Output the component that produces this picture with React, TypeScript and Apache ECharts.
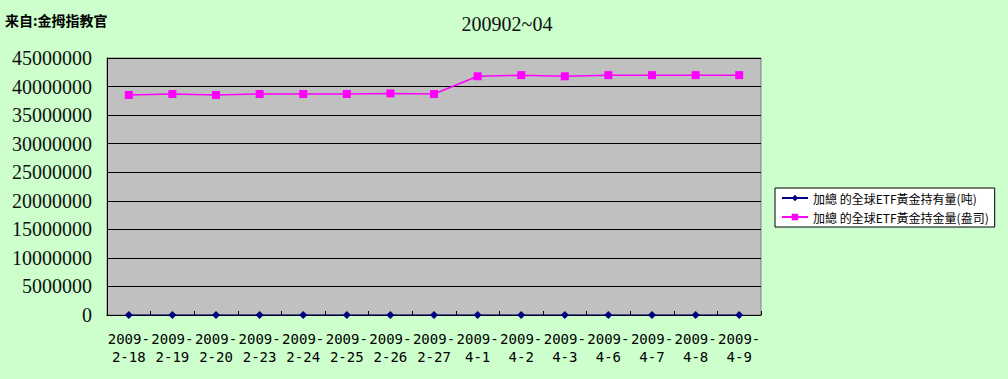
import React, { useEffect, useRef } from "react";
import * as echarts from "echarts";

const categories = [
  "2009-\n2-18", "2009-\n2-19", "2009-\n2-20", "2009-\n2-23", "2009-\n2-24",
  "2009-\n2-25", "2009-\n2-26", "2009-\n2-27", "2009-\n4-1", "2009-\n4-2",
  "2009-\n4-3", "2009-\n4-6", "2009-\n4-7", "2009-\n4-8", "2009-\n4-9",
];
const tonnes = [1198, 1204, 1199, 1204, 1205, 1205, 1208, 1205, 1300, 1305, 1300, 1306, 1306, 1306, 1306];
const ounces = [
  38520000, 38700000, 38520000, 38700000, 38700000, 38700000, 38800000, 38700000,
  41800000, 42000000, 41800000, 42000000, 42000000, 42000000, 42000000,
];
const seriesNames = ["加總 的全球ETF黃金持有量(吨)", "加總 的全球ETF黃金持金量(盎司)"];
const titleText = "200902~04";
const sourceText = "来自:金拇指教官";

export default function App() {
  const ref = useRef<HTMLDivElement>(null);
  useEffect(() => {
    if (!ref.current) return;
    const chart = echarts.init(ref.current, undefined, { renderer: "svg" });
    chart.setOption({
      animation: false,
      backgroundColor: "#CCFFCC",
      title: {
        text: titleText,
        left: 502,
        textAlign: "center",
        top: 9,
        textStyle: { fontFamily: "Liberation Serif", fontSize: 20, fontWeight: "normal", color: "#111" },
      },
      graphic: [
        {
          type: "text",
          left: 5,
          top: 13,
          style: { text: sourceText, font: "bold 14px 'Noto Sans CJK SC'", fill: "#000" },
        },
      ],
      legend: {
        orient: "vertical",
        left: 775,
        top: 188,
        padding: [4, 6, 4, 6],
        itemGap: 7,
        itemWidth: 26,
        itemHeight: 8,
        borderColor: "#000",
        borderWidth: 1,
        borderRadius: 0,
        backgroundColor: "#fff",
        textStyle: { fontFamily: "Noto Sans CJK TC", fontSize: 12, color: "#000" },
        data: seriesNames,
      },
      grid: {
        left: 107,
        right: 247,
        top: 58,
        bottom: 64,
        show: true,
        backgroundColor: "#C0C0C0",
        borderColor: "#808080",
        borderWidth: 1,
        containLabel: false,
      },
      xAxis: {
        type: "category",
        data: categories,
        boundaryGap: true,
        axisLine: { lineStyle: { color: "#000", width: 1 } },
        axisTick: { show: true, inside: true, length: 4, lineStyle: { color: "#000" } },
        axisLabel: {
          interval: 0,
          fontFamily: "DejaVu Sans Mono",
          fontSize: 14,
          lineHeight: 18,
          color: "#000",
          margin: 15,
        },
      },
      yAxis: {
        type: "value",
        min: 0,
        max: 45000000,
        interval: 5000000,
        axisLine: { show: true, lineStyle: { color: "#000", width: 1 } },
        axisTick: { show: false },
        splitLine: { show: true, lineStyle: { color: "#000", width: 1 } },
        axisLabel: {
          fontFamily: "Liberation Serif",
          fontSize: 20,
          color: "#111",
          margin: 15,
          formatter: (v: number) => String(v),
        },
      },
      series: [
        {
          name: seriesNames[0],
          type: "line",
          data: tonnes,
          symbol: "diamond",
          symbolSize: 8,
          itemStyle: { color: "#000080" },
          lineStyle: { color: "#000080", width: 1 },
        },
        {
          name: seriesNames[1],
          type: "line",
          data: ounces,
          symbol: "rect",
          symbolSize: 8,
          itemStyle: { color: "#FF00FF" },
          lineStyle: { color: "#FF00FF", width: 1.5 },
        },
      ],
    });
    return () => chart.dispose();
  }, []);
  return <div ref={ref} style={{ width: 1008, height: 379, position: "absolute", left: 0, top: 0 }} />;
}
